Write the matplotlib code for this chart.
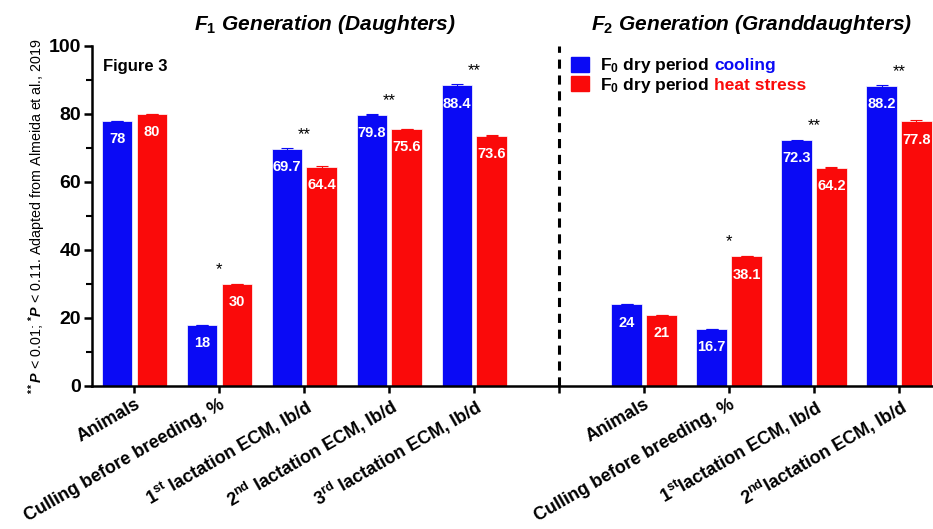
import matplotlib
matplotlib.use("Agg")
import matplotlib.pyplot as plt
import numpy as np

plt.rcParams['font.family'] = ['Liberation Sans', 'DejaVu Sans']
plt.rcParams['font.weight'] = 'bold'
plt.rcParams['mathtext.fontset'] = 'custom'
plt.rcParams['mathtext.rm'] = 'Liberation Sans:bold'
plt.rcParams['mathtext.bf'] = 'Liberation Sans:bold'
plt.rcParams['mathtext.it'] = 'Liberation Sans:italic:bold'

# data
f1_labels = ["Animals", "Culling before breeding, %", "1$^{\\rm st}$ lactation ECM, lb/d",
             "2$^{\\rm nd}$ lactation ECM, lb/d", "3$^{\\rm rd}$ lactation ECM, lb/d"]
f2_labels = ["Animals", "Culling before breeding, %", "1$^{\\rm st}$lactation ECM, lb/d",
             "2$^{\\rm nd}$lactation ECM, lb/d"]
f1_cool = [78, 18, 69.7, 79.8, 88.4]
f1_heat = [80, 30, 64.4, 75.6, 73.6]
f2_cool = [24, 16.7, 72.3, 88.2]
f2_heat = [21, 38.1, 64.2, 77.8]
f1_stars = ["", "*", "**", "**", "**"]
f2_stars = ["", "*", "**", "**"]
err_cool = [0, 0, 0.2, 0.2, 0.3, 0, 0, 0.2, 0.4]
err_heat = [0, 0, 0.2, 0.1, 0.2, 0, 0, 0.1, 0.4]

labels = f1_labels + [""] + f2_labels
cool = f1_cool + f2_cool
heat = f1_heat + f2_heat
stars = f1_stars + f2_stars
pos = np.array(list(range(5)) + list(range(6, 10)))

blue = "#0a0af5"
red = "#fa0a0a"
w = 0.36
off = 0.205

fig = plt.figure(figsize=(9.33, 5.29), dpi=100)
ax = fig.add_axes([92/933, 1-386/529, 1-92/933, (386-46)/529])

ax.bar(pos - off, cool, w, color=blue, edgecolor="white", linewidth=0.5,
       yerr=err_cool, error_kw=dict(ecolor=blue, capsize=4, elinewidth=0.8, capthick=0.8))
ax.bar(pos + off, heat, w, color=red, edgecolor="white", linewidth=0.5,
       yerr=err_heat, error_kw=dict(ecolor=red, capsize=4, elinewidth=0.8, capthick=0.8))

for x, v in zip(pos - off, cool):
    ax.annotate(f"{v:g}", (x, v), xytext=(0, -8), textcoords="offset points",
                ha="center", va="top", color="white", fontsize=10.5, fontweight="bold")
for x, v in zip(pos + off, heat):
    ax.annotate(f"{v:g}", (x, v), xytext=(0, -8), textcoords="offset points",
                ha="center", va="top", color="white", fontsize=10.5, fontweight="bold")
for x, a, b, s in zip(pos, cool, heat, stars):
    if s:
        ax.annotate(s, (x, max(a, b)), xytext=(0, 5), textcoords="offset points",
                    ha="center", va="bottom", fontsize=12, fontweight="normal")

ax.axvline(5, color="black", lw=2.2, ls=(0, (3, 2.2)))

ax.set_xlim(-0.5, 9.4)
ax.set_ylim(0, 100)
ax.set_yticks(range(0, 101, 20))
ax.set_yticks(range(10, 100, 20), minor=True)
ax.set_xticks(range(10))
ax.set_xticklabels(labels, rotation=30, ha="right", rotation_mode="anchor", fontsize=13)
ax.tick_params(axis="x", length=5, width=1.8, pad=2)
ax.tick_params(axis="y", which="major", length=6, width=1.8, labelsize=14, pad=2)
ax.tick_params(axis="y", which="minor", length=4, width=1.5)
for sp in ["top", "right"]:
    ax.spines[sp].set_visible(False)
for sp in ["left", "bottom"]:
    ax.spines[sp].set_linewidth(1.8)

ax.set_ylabel("$^{**}$$\\mathit{P}$ < 0.01; $^{*}$$\\mathit{P}$ < 0.11. Adapted from Almeida et al., 2019",
              fontsize=10.3)
ax.yaxis.set_label_coords(-0.052, 0.5)

ax.text(2.24, 103, "F$_{\\mathit{1}}$ Generation (Daughters)", ha="center", va="bottom",
        fontsize=15, fontstyle="italic", fontweight="bold")
ax.text(7.26, 103, "F$_{\\mathit{2}}$ Generation (Granddaughters)", ha="center", va="bottom",
        fontsize=15, fontstyle="italic", fontweight="bold")
ax.text(0.013, 0.94, "Figure 3", transform=ax.transAxes, ha="left", va="center",
        fontsize=12, fontweight="bold")

# legend with coloured keywords
for i, (c, word) in enumerate([(blue, "cooling"), (red, "heat stress")]):
    yy = 0.946 - i * 0.056
    ax.add_patch(plt.Rectangle((0.570, yy - 0.022), 0.0214, 0.044, transform=ax.transAxes,
                               color=c, clip_on=False))
    t = ax.text(0.604, yy - 0.018, "F$_\\mathbf{0}$ dry period", transform=ax.transAxes,
                ha="left", va="baseline", fontsize=12.5, fontweight="bold")
    ax.annotate(word, xy=(1, yy - 0.018), xycoords=(t, ax.transAxes), xytext=(4, 0),
                textcoords="offset points", ha="left", va="baseline",
                fontsize=12.5, fontweight="bold", color=c)

fig.savefig("out.png", dpi=100)
